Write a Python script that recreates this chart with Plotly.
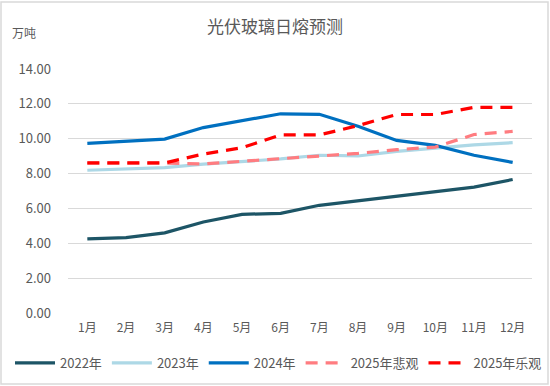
import plotly.graph_objects as go

months = ["1月", "2月", "3月", "4月", "5月", "6月", "7月", "8月", "9月", "10月", "11月", "12月"]
y2022 = [4.25, 4.33, 4.60, 5.22, 5.66, 5.72, 6.18, 6.45, 6.72, 6.95, 7.22, 7.66]
y2023 = [8.19, 8.27, 8.34, 8.54, 8.70, 8.84, 9.05, 9.01, 9.27, 9.48, 9.65, 9.77]
y2024 = [9.73, 9.87, 9.98, 10.64, 11.05, 11.43, 11.40, 10.72, 9.90, 9.62, 9.05, 8.64]
y2025_pess = [8.60, 8.60, 8.60, 8.55, 8.70, 8.84, 9.02, 9.16, 9.37, 9.52, 10.24, 10.42]
y2025_opt = [8.61, 8.61, 8.61, 9.12, 9.48, 10.22, 10.22, 10.75, 11.39, 11.39, 11.80, 11.80]
yticks = [0, 2, 4, 6, 8, 10, 12, 14]

series = [
    ("2022年", y2022, "#1D5566", None),
    ("2023年", y2023, "#ADD8E6", None),
    ("2024年", y2024, "#0070C0", None),
    ("2025年悲观", y2025_pess, "#FF7C80", "12px,8px"),
    ("2025年乐观", y2025_opt, "#FF0000", "12px,8px"),
]

fig = go.Figure()
for name, ys, color, dash in series:
    fig.add_trace(go.Scatter(
        x=months, y=ys, name=name, mode="lines",
        line=dict(color=color, width=3.2, dash=dash if dash else "solid"),
    ))

font_family = "Noto Sans CJK SC"
grey = "#595959"
PW, PH = 464, 244

fig.update_layout(
    width=550, height=386,
    margin=dict(l=68, r=18, t=69, b=73, autoexpand=False),
    paper_bgcolor="white", plot_bgcolor="white",
    font=dict(family=font_family, color=grey, size=12),
    title=dict(text="光伏玻璃日熔预测", x=0.5, xanchor="center", y=0.93, yanchor="middle",
               font=dict(size=17, color=grey, family=font_family)),
    showlegend=True,
    legend=dict(orientation="h", x=-58 / PW, xanchor="left", y=-35 / PH, yanchor="top",
                font=dict(size=13, color=grey), itemwidth=40, tracegroupgap=0,
                bgcolor="rgba(0,0,0,0)"),
    annotations=[dict(text="万吨", xref="paper", yref="paper", x=-58 / PW, y=1 + 37 / PH,
                      xanchor="left", yanchor="middle", showarrow=False,
                      font=dict(size=12, color=grey))],
    shapes=[dict(type="rect", xref="paper", yref="paper",
                 x0=-67 / PW, x1=1 + 16 / PW, y0=-71 / PH, y1=1 + 67 / PH,
                 line=dict(color="#D9D9D9", width=1.5), fillcolor="rgba(0,0,0,0)", layer="below")],
)
fig.update_xaxes(showgrid=False, showline=False, ticks="", range=[-0.5, 11.5],
                 ticklabelstandoff=6, tickfont=dict(size=12, color=grey))
fig.update_yaxes(range=[0, 14], tickvals=yticks, tickformat=".2f", showgrid=True,
                 gridcolor="#D9D9D9", gridwidth=1, zeroline=False, showline=False,
                 ticks="", ticklabelstandoff=16, tickfont=dict(size=13, color=grey))

fig.write_html("out.html", config={"displayModeBar": False},
               post_script="document.body.style.margin='0';document.body.style.overflow='hidden';")
